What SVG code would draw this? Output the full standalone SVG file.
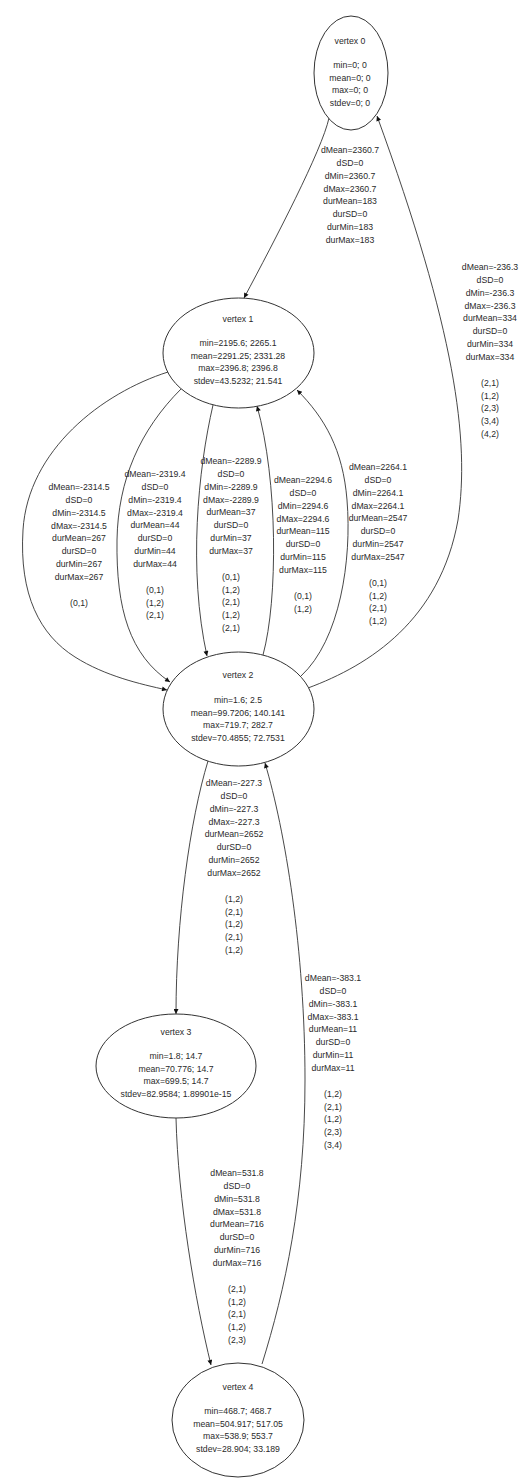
<svg xmlns="http://www.w3.org/2000/svg" width="531" height="1478" viewBox="0 0 531 1478">
  <style>
    .node ellipse { fill: #ffffff; stroke: #333333; stroke-width: 1; }
    text { font-family: "Liberation Sans", Arial, sans-serif; font-size: 8.7px; fill: #2a2a2a; text-anchor: middle; }
    .edge { fill: none; stroke: #333333; stroke-width: 0.9; marker-end: url(#arrow); }
  </style>
  <defs>
    <marker id="arrow" viewBox="0 0 10 10" refX="10" refY="5" markerWidth="7" markerHeight="5" markerUnits="userSpaceOnUse" orient="auto">
      <path d="M0,0 L10,5 L0,10 z" fill="#111111"/>
    </marker>
  </defs>
  <rect width="531" height="1478" fill="#ffffff"/>

  <!-- connectors -->
  <g id="edges">
    <path class="edge" d="M329,118 C322,150 275,240 244,298"/>
    <path class="edge" d="M308,688 C370,665 440,620 458,520 C470,440 455,330 377,116"/>
    <path class="edge" d="M168,372 C102,393 28,450 23,530 C19,595 40,635 75,657 C105,676 140,684 167,690"/>
    <path class="edge" d="M181,389 C140,430 118,480 117,540 C116,610 130,655 170,682"/>
    <path class="edge" d="M213,405 C198,470 188,570 207,656"/>
    <path class="edge" d="M263,655 C278,600 278,480 257,406"/>
    <path class="edge" d="M301,676 C340,640 352,560 347,500 C343,450 325,418 297,390"/>
    <path class="edge" d="M208,761 C190,820 176,920 176,1014"/>
    <path class="edge" d="M262,1364 C285,1290 305,1200 305,1080 C305,950 285,830 265,763"/>
    <path class="edge" d="M176,1118 C178,1200 195,1300 211,1365"/>
  </g>

  <!-- connector labels -->
  <g id="edge-labels">
    <text x="350" y="153"><tspan x="350">dMean=2360.7</tspan><tspan x="350" dy="12.85">dSD=0</tspan><tspan x="350" dy="12.85">dMin=2360.7</tspan><tspan x="350" dy="12.85">dMax=2360.7</tspan><tspan x="350" dy="12.85">durMean=183</tspan><tspan x="350" dy="12.85">durSD=0</tspan><tspan x="350" dy="12.85">durMin=183</tspan><tspan x="350" dy="12.85">durMax=183</tspan></text>

    <text x="490" y="270"><tspan x="490">dMean=-236.3</tspan><tspan x="490" dy="12.85">dSD=0</tspan><tspan x="490" dy="12.85">dMin=-236.3</tspan><tspan x="490" dy="12.85">dMax=-236.3</tspan><tspan x="490" dy="12.85">durMean=334</tspan><tspan x="490" dy="12.85">durSD=0</tspan><tspan x="490" dy="12.85">durMin=334</tspan><tspan x="490" dy="12.85">durMax=334</tspan><tspan x="490" dy="25.7">(2,1)</tspan><tspan x="490" dy="12.85">(1,2)</tspan><tspan x="490" dy="12.85">(2,3)</tspan><tspan x="490" dy="12.85">(3,4)</tspan><tspan x="490" dy="12.85">(4,2)</tspan></text>

    <text x="79" y="490"><tspan x="79">dMean=-2314.5</tspan><tspan x="79" dy="12.85">dSD=0</tspan><tspan x="79" dy="12.85">dMin=-2314.5</tspan><tspan x="79" dy="12.85">dMax=-2314.5</tspan><tspan x="79" dy="12.85">durMean=267</tspan><tspan x="79" dy="12.85">durSD=0</tspan><tspan x="79" dy="12.85">durMin=267</tspan><tspan x="79" dy="12.85">durMax=267</tspan><tspan x="79" dy="25.7">(0,1)</tspan></text>

    <text x="155" y="477"><tspan x="155">dMean=-2319.4</tspan><tspan x="155" dy="12.85">dSD=0</tspan><tspan x="155" dy="12.85">dMin=-2319.4</tspan><tspan x="155" dy="12.85">dMax=-2319.4</tspan><tspan x="155" dy="12.85">durMean=44</tspan><tspan x="155" dy="12.85">durSD=0</tspan><tspan x="155" dy="12.85">durMin=44</tspan><tspan x="155" dy="12.85">durMax=44</tspan><tspan x="155" dy="25.7">(0,1)</tspan><tspan x="155" dy="12.85">(1,2)</tspan><tspan x="155" dy="12.85">(2,1)</tspan></text>

    <text x="231" y="464"><tspan x="231">dMean=-2289.9</tspan><tspan x="231" dy="12.85">dSD=0</tspan><tspan x="231" dy="12.85">dMin=-2289.9</tspan><tspan x="231" dy="12.85">dMax=-2289.9</tspan><tspan x="231" dy="12.85">durMean=37</tspan><tspan x="231" dy="12.85">durSD=0</tspan><tspan x="231" dy="12.85">durMin=37</tspan><tspan x="231" dy="12.85">durMax=37</tspan><tspan x="231" dy="25.7">(0,1)</tspan><tspan x="231" dy="12.85">(1,2)</tspan><tspan x="231" dy="12.85">(2,1)</tspan><tspan x="231" dy="12.85">(1,2)</tspan><tspan x="231" dy="12.85">(2,1)</tspan></text>

    <text x="303" y="483"><tspan x="303">dMean=2294.6</tspan><tspan x="303" dy="12.85">dSD=0</tspan><tspan x="303" dy="12.85">dMin=2294.6</tspan><tspan x="303" dy="12.85">dMax=2294.6</tspan><tspan x="303" dy="12.85">durMean=115</tspan><tspan x="303" dy="12.85">durSD=0</tspan><tspan x="303" dy="12.85">durMin=115</tspan><tspan x="303" dy="12.85">durMax=115</tspan><tspan x="303" dy="25.7">(0,1)</tspan><tspan x="303" dy="12.85">(1,2)</tspan></text>

    <text x="378" y="470"><tspan x="378">dMean=2264.1</tspan><tspan x="378" dy="12.85">dSD=0</tspan><tspan x="378" dy="12.85">dMin=2264.1</tspan><tspan x="378" dy="12.85">dMax=2264.1</tspan><tspan x="378" dy="12.85">durMean=2547</tspan><tspan x="378" dy="12.85">durSD=0</tspan><tspan x="378" dy="12.85">durMin=2547</tspan><tspan x="378" dy="12.85">durMax=2547</tspan><tspan x="378" dy="25.7">(0,1)</tspan><tspan x="378" dy="12.85">(1,2)</tspan><tspan x="378" dy="12.85">(2,1)</tspan><tspan x="378" dy="12.85">(1,2)</tspan></text>

    <text x="234" y="786"><tspan x="234">dMean=-227.3</tspan><tspan x="234" dy="12.85">dSD=0</tspan><tspan x="234" dy="12.85">dMin=-227.3</tspan><tspan x="234" dy="12.85">dMax=-227.3</tspan><tspan x="234" dy="12.85">durMean=2652</tspan><tspan x="234" dy="12.85">durSD=0</tspan><tspan x="234" dy="12.85">durMin=2652</tspan><tspan x="234" dy="12.85">durMax=2652</tspan><tspan x="234" dy="25.7">(1,2)</tspan><tspan x="234" dy="12.85">(2,1)</tspan><tspan x="234" dy="12.85">(1,2)</tspan><tspan x="234" dy="12.85">(2,1)</tspan><tspan x="234" dy="12.85">(1,2)</tspan></text>

    <text x="333" y="981"><tspan x="333">dMean=-383.1</tspan><tspan x="333" dy="12.85">dSD=0</tspan><tspan x="333" dy="12.85">dMin=-383.1</tspan><tspan x="333" dy="12.85">dMax=-383.1</tspan><tspan x="333" dy="12.85">durMean=11</tspan><tspan x="333" dy="12.85">durSD=0</tspan><tspan x="333" dy="12.85">durMin=11</tspan><tspan x="333" dy="12.85">durMax=11</tspan><tspan x="333" dy="25.7">(1,2)</tspan><tspan x="333" dy="12.85">(2,1)</tspan><tspan x="333" dy="12.85">(1,2)</tspan><tspan x="333" dy="12.85">(2,3)</tspan><tspan x="333" dy="12.85">(3,4)</tspan></text>

    <text x="237" y="1176"><tspan x="237">dMean=531.8</tspan><tspan x="237" dy="12.85">dSD=0</tspan><tspan x="237" dy="12.85">dMin=531.8</tspan><tspan x="237" dy="12.85">dMax=531.8</tspan><tspan x="237" dy="12.85">durMean=716</tspan><tspan x="237" dy="12.85">durSD=0</tspan><tspan x="237" dy="12.85">durMin=716</tspan><tspan x="237" dy="12.85">durMax=716</tspan><tspan x="237" dy="25.7">(2,1)</tspan><tspan x="237" dy="12.85">(1,2)</tspan><tspan x="237" dy="12.85">(2,1)</tspan><tspan x="237" dy="12.85">(1,2)</tspan><tspan x="237" dy="12.85">(2,3)</tspan></text>
  </g>

  <!-- vertices -->
  <g id="vertex0" class="node">
    <ellipse cx="351" cy="73" rx="37" ry="57"/>
    <text x="350" y="44">vertex 0</text>
    <text x="350" y="68">min=0; 0</text>
    <text x="350" y="80.7">mean=0; 0</text>
    <text x="350" y="93.4">max=0; 0</text>
    <text x="350" y="106">stdev=0; 0</text>
  </g>

  <g id="vertex1" class="node">
    <ellipse cx="238.5" cy="353" rx="75.5" ry="55"/>
    <text x="238" y="322">vertex 1</text>
    <text x="238" y="346">min=2195.6; 2265.1</text>
    <text x="238" y="358.7">mean=2291.25; 2331.28</text>
    <text x="238" y="371.4">max=2396.8; 2396.8</text>
    <text x="238" y="384">stdev=43.5232; 21.541</text>
  </g>

  <g id="vertex2" class="node">
    <ellipse cx="238.5" cy="709" rx="75.5" ry="57"/>
    <text x="238" y="678">vertex 2</text>
    <text x="238" y="703">min=1.6; 2.5</text>
    <text x="238" y="715.7">mean=99.7206; 140.141</text>
    <text x="238" y="728.4">max=719.7; 282.7</text>
    <text x="238" y="741">stdev=70.4855; 72.7531</text>
  </g>

  <g id="vertex3" class="node">
    <ellipse cx="176" cy="1066" rx="80" ry="52"/>
    <text x="176" y="1035">vertex 3</text>
    <text x="176" y="1059">min=1.8; 14.7</text>
    <text x="176" y="1071.7">mean=70.776; 14.7</text>
    <text x="176" y="1084.4">max=699.5; 14.7</text>
    <text x="176" y="1097">stdev=82.9584; 1.89901e-15</text>
  </g>

  <g id="vertex4" class="node">
    <ellipse cx="238" cy="1420" rx="66" ry="57"/>
    <text x="238" y="1390">vertex 4</text>
    <text x="238" y="1414">min=468.7; 468.7</text>
    <text x="238" y="1426.7">mean=504.917; 517.05</text>
    <text x="238" y="1439.4">max=538.9; 553.7</text>
    <text x="238" y="1452">stdev=28.904; 33.189</text>
  </g>
</svg>
